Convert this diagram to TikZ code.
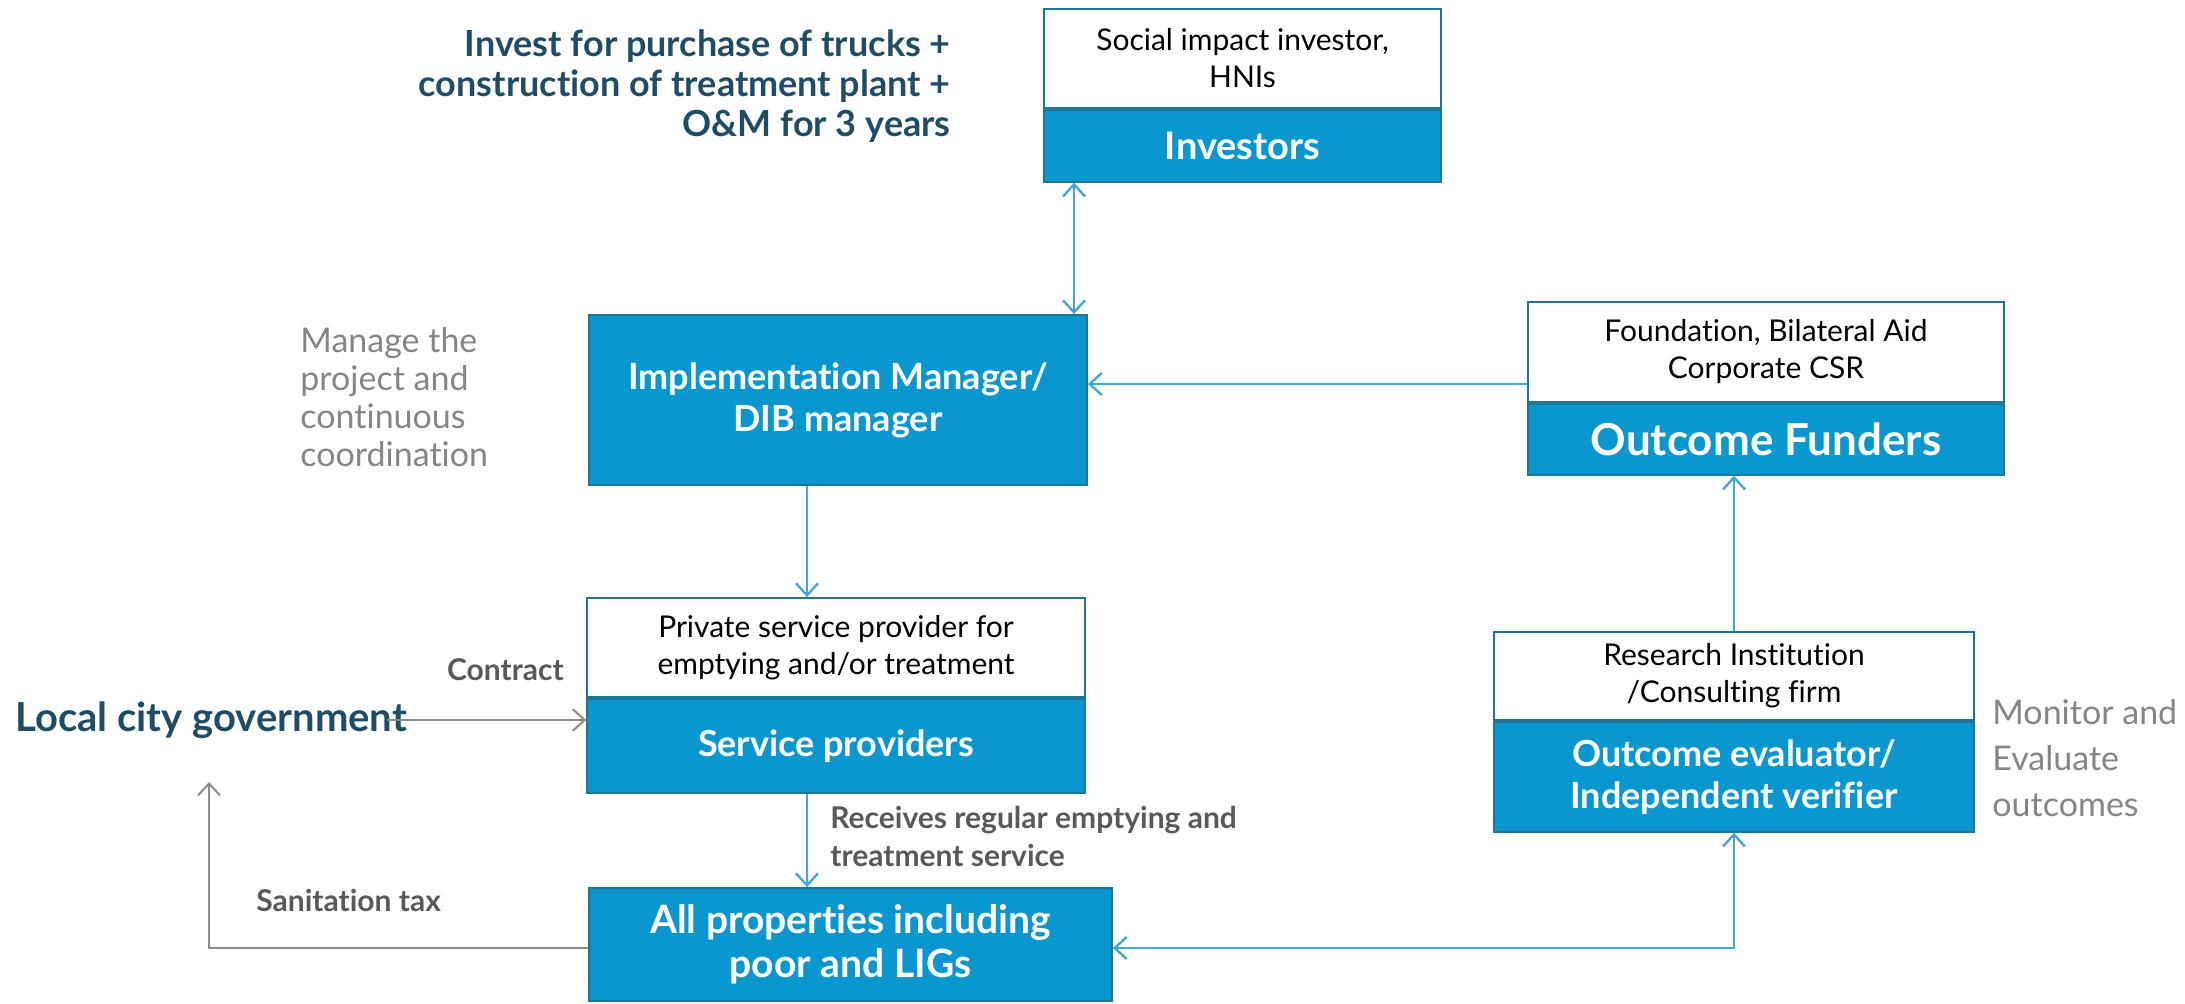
\documentclass[tikz,border=0pt]{standalone}
\usepackage{fontspec}
\setmainfont{Lato}[Ligatures=NoCommon]
\usetikzlibrary{arrows.meta, positioning}

\begin{document}
\begin{tikzpicture}[x=0.5pt, y=-0.5pt,
    every node/.style={align=center, inner sep=0pt},
    toppart/.style={draw=boxedge, line width=0.9pt, fill=white, text=black, font=\fontsize{15}{18.5}\selectfont},
    blupart/.style={draw=boxedge, line width=0.9pt, fill=boxfill, text=white, font=\bfseries\fontsize{18}{21}\selectfont},
    sidenote/.style={text=labelgrey, font=\bfseries\fontsize{15}{19}\selectfont},
    bluelink/.style={draw=linkblue, line width=1.2pt},
    greylink/.style={draw=linkgrey, line width=1pt},
    >={Straight Barb[length=6pt, width=11pt]}]
  \definecolor{boxfill}{HTML}{0A97CF} \definecolor{boxedge}{HTML}{1F7595}
  \definecolor{linkblue}{HTML}{45A5D3} \definecolor{linkgrey}{HTML}{8C8C8C}
  \definecolor{darkteal}{HTML}{1F4D66} \definecolor{softgrey}{HTML}{858585}
  \definecolor{labelgrey}{HTML}{595959}

  \useasboundingbox (0,0) rectangle (2185,1004);

  % investors
  \node[toppart, minimum width=198.5pt, minimum height=49.5pt] (invtop) at (1242.5,58.5) {Social impact investor,\\HNIs};
  \node[blupart, minimum width=198.5pt, minimum height=36pt, anchor=north, font=\bfseries\fontsize{19}{22}\selectfont] (invbot) at (invtop.south) {Investors};

  % implementation manager
  \node[blupart, minimum width=249pt, minimum height=85pt] (imgr) at (838,400) {Implementation Manager/\\DIB manager};

  % outcome funders
  \node[toppart, minimum width=238pt, minimum height=50pt] (fundtop) at (1766,352) {Foundation, Bilateral Aid\\Corporate CSR};
  \node[blupart, minimum width=238pt, minimum height=35.5pt, anchor=north, font=\bfseries\fontsize{22}{25}\selectfont] (fundbot) at (fundtop.south) {Outcome Funders};

  % service providers
  \node[toppart, minimum width=249pt, minimum height=49.5pt] (provtop) at (836,647.5) {Private service provider for\\emptying and/or treatment};
  \node[blupart, minimum width=249pt, minimum height=47pt, anchor=north] (provbot) at (provtop.south) {Service providers};

  % properties
  \node[blupart, minimum width=261.5pt, minimum height=56.5pt, font=\bfseries\fontsize{19.5}{22}\selectfont] (props) at (850.5,944.5) {All properties including\\poor and LIGs};

  % evaluator
  \node[toppart, minimum width=240pt, minimum height=44pt] (evaltop) at (1734,676) {Research Institution\\/Consulting firm};
  \node[blupart, minimum width=240pt, minimum height=55pt, anchor=north] (evalbot) at (evaltop.south) {Outcome evaluator/\\Independent verifier};

  % side notes
  \node[anchor=east, align=right, text=darkteal, font=\bfseries\fontsize{18}{20}\selectfont] (invnote) at (951,86) {Invest for purchase of trucks +\\construction of treatment plant +\\O\&M for 3 years};
  \node[anchor=west, align=left, text=softgrey, font=\fontsize{17}{19}\selectfont] (mgrnote) at (300,397) {Manage the\\project and\\continuous\\coordination};
  \node[anchor=west, align=left, text=softgrey, font=\fontsize{17}{23}\selectfont] (evalnote) at (1992,758) {Monitor and\\Evaluate\\outcomes};
  \node[anchor=west, text=darkteal, font=\bfseries\fontsize{20}{23}\selectfont] (city) at (15,720) {Local city government};
  \node[sidenote, anchor=east] (contract) at (564,670) {Contract};
  \node[sidenote, anchor=west, align=left] (service) at (830,836) {Receives regular emptying and\\treatment service};
  \node[sidenote, anchor=west] (tax) at (256,900) {Sanitation tax};

  % connectors
  \coordinate (invx) at (1074,250);
  \coordinate (fundy) at (1300,384);
  \coordinate (provx) at (807,540);
  \coordinate (taxbend) at (209,948);
  \coordinate (taxtip) at (209,782);
  \coordinate (evalbend) at (1734,948);

  \draw[bluelink, <->] (invx |- invbot.south) -- (invx |- imgr.north);
  \draw[bluelink, ->] (fundy -| fundtop.west) -- (fundy -| imgr.east);
  \draw[bluelink, ->] (provx |- imgr.south) -- (provx |- provtop.north);
  \draw[bluelink, ->] (provx |- provbot.south) -- (provx |- props.north);
  \draw[bluelink, ->] (evaltop.north) -- (evaltop.north |- fundbot.south);
  \draw[bluelink, <->] (props.east |- evalbend) -- (evalbend) -- (evalbot.south);
  \draw[greylink, ->] ([xshift=-10pt]city.east) -- (city.east -| provbot.west);
  \draw[greylink, ->] (props.west |- taxbend) -- (taxbend) -- (taxtip);
\end{tikzpicture}
\end{document}
